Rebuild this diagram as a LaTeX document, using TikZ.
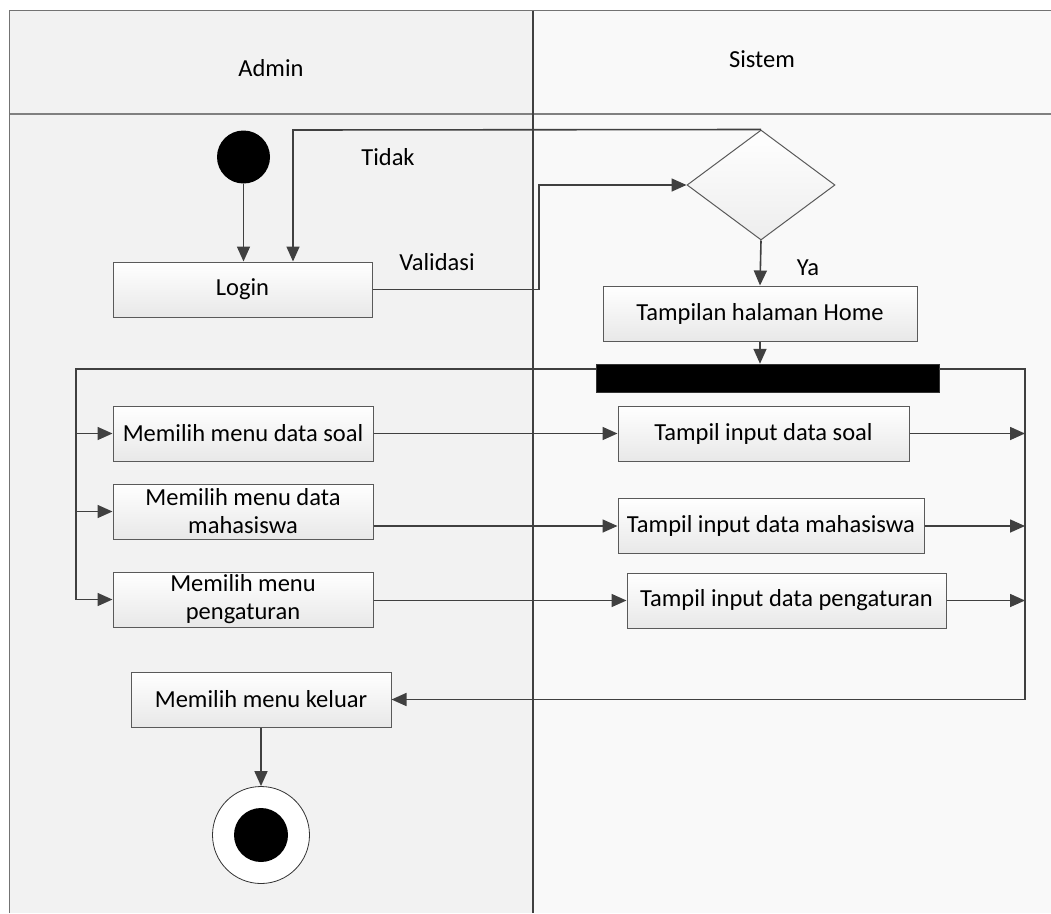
\documentclass[tikz,border=0pt]{standalone}
\usepackage{fontspec}
\setmainfont{Carlito}
\usetikzlibrary{arrows.meta,shapes.geometric,calc}
\definecolor{linec}{HTML}{404040}
\definecolor{boxline}{HTML}{5A5A5A}
\definecolor{laneA}{HTML}{F2F2F2}
\definecolor{laneB}{HTML}{F9F9F9}
\begin{document}
\begin{tikzpicture}[x=1pt,y=-1pt,
  font=\fontsize{24.5}{28}\selectfont,
  act/.style={draw=boxline, line width=1pt, top color=white, bottom color=black!9,
    minimum height=55pt, inner sep=2pt, align=center, rectangle},
  conn/.style={draw=linec, line width=1.6pt},
  arr/.style={conn, -{Triangle[length=15pt,width=13pt]}},
  lbl/.style={inner sep=0pt}
]
\useasboundingbox (0,0) rectangle (1051,913);
% swimlanes
\fill[white] (0,0) rectangle (1051,913);
\fill[laneA] (9.5,10.5) rectangle (533,913);
\fill[laneB] (533,10.5) rectangle (1051,913);
\draw[black!55, line width=1.2pt] (9.5,913) -- (9.5,10.5) -- (1051,10.5);
\draw[black!50, line width=1.5pt] (9.5,114) -- (1051,114);
\draw[black!75, line width=1.2pt] (533,10.5) -- (533,913);
\node[lbl] (hadmin) at (271,68) {Admin};
\node[lbl] (hsistem) at (762,59) {Sistem};

% start / end
\node[circle, fill=black, minimum size=53pt, inner sep=0pt] (start) at (243.5,157) {};
\node[circle, draw=black!80, line width=0.8pt, fill=white, minimum size=97pt, inner sep=0pt] (end) at (261,835) {};
\node[circle, fill=black, minimum size=54pt, inner sep=0pt] (endin) at (end.center) {};

% actions
\node[act, minimum width=259pt] (login) at (242.5,289.5) {Login};
\node[act, minimum width=260pt] (msoal) at (243,433.5) {Memilih menu data soal};
\node[act, minimum width=260pt] (mmhs) at (243,511.5) {Memilih menu data\\mahasiswa};
\node[act, minimum width=260pt] (mpeng) at (243,599.5) {Memilih menu\\pengaturan};
\node[act, minimum width=260pt] (keluar) at (261,699.5) {Memilih menu keluar};
\node[act, minimum width=314pt] (home) at (760,313.5) {Tampilan halaman Home};
\node[act, minimum width=291pt] (tsoal) at (763.5,433.5) {Tampil input data soal};
\node[act, minimum width=306pt] (tmhs) at (771,526) {Tampil input data mahasiswa};
\node[act, minimum width=319pt] (tpeng) at (786.5,600.5) {Tampil input data pengaturan};

% decision and fork
\node[diamond, draw=boxline, line width=1pt, top color=white, bottom color=black!7,
  minimum width=148pt, minimum height=110pt, inner sep=0pt] (dec) at (761,185) {};
\node[rectangle, fill=black, draw=black!80, minimum width=343pt, minimum height=28pt, inner sep=0pt] (bar) at (767.5,378) {};

% helper coordinates for routed connectors
\coordinate (tk) at (293,130);
\coordinate (vx) at (539,185);
\coordinate (fl) at (76,369);
\coordinate (fr) at (1025,369);

% flows
\draw[arr] (start) -- (login.north -| start);
\draw[arr] (dec.north) -- (tk) -- (tk |- login.north);
\draw[arr] (login.east) -- (login.east -| vx) -- (vx) -- (dec.west);
\draw[arr] (dec.south) -- (home.north);
\draw[arr] (home.south) -- (home.south |- bar.north);

\draw[conn] (bar.west |- fl) -- (fl) -- (fl |- mpeng.west);
\draw[arr] (fl |- msoal.west) -- (msoal.west);
\draw[arr] (fl |- mmhs.west) -- (mmhs.west);
\draw[arr] (fl |- mpeng.west) -- (mpeng.west);

\draw[arr] (msoal.east) -- (tsoal.west);
\draw[arr] (mmhs.east |- tmhs.west) -- (tmhs.west);
\draw[arr] (mpeng.east |- tpeng.west) -- (tpeng.west);

\draw[arr] (tsoal.east) -- (fr |- tsoal.east);
\draw[arr] (tmhs.east) -- (fr |- tmhs.east);
\draw[arr] (tpeng.east) -- (fr |- tpeng.east);
\draw[arr] (bar.east |- fr) -- (fr) -- (fr |- keluar.east) -- (keluar.east);
\draw[arr] (keluar.south) -- (end.north);

% guard labels
\node[lbl] (ltidak) at (388,157) {Tidak};
\node[lbl] (lval) at (437,262) {Validasi};
\node[lbl] (lya) at (808,268) {Ya};
\end{tikzpicture}
\end{document}
